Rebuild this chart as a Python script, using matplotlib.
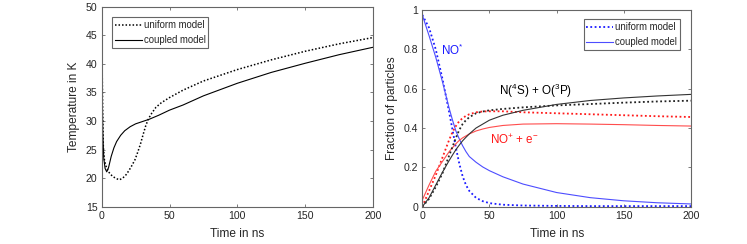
import matplotlib
matplotlib.use("Agg")
import matplotlib.pyplot as plt

plt.rcParams['font.family'] = ['Liberation Sans', 'DejaVu Sans']
plt.rcParams['mathtext.fontset'] = 'custom'
plt.rcParams['mathtext.rm'] = 'Liberation Sans'
plt.rcParams['mathtext.it'] = 'Liberation Sans:italic'
plt.rcParams['mathtext.default'] = 'rm'

# ---- Left panel: temperature ----
t_uni_T = [0, 0.4, 0.8, 1.2, 2, 3, 5, 8, 11, 13, 15.5, 18, 20, 22, 24.5, 26.5, 28.5, 30.5,
           32.5, 34.5, 37, 40, 44, 50, 60, 75, 100, 125, 150, 175, 200]
T_uni = [45.5, 38, 31, 25.5, 23.2, 22.2, 21.1, 20.3, 19.9, 19.7, 20.0, 20.6, 21.3, 22.1, 23.2,
         24.5, 25.9, 27.6, 29.2, 30.4, 31.4, 32.4, 33.2, 34.1, 35.4, 37.0, 39.0, 40.7, 42.2,
         43.5, 44.6]
t_cpl_T = [0, 0.4, 0.8, 1.5, 2.5, 3.7, 5, 7, 9, 11, 14, 17, 21, 25, 30, 35, 42, 50, 60, 75,
           100, 125, 150, 175, 200]
T_cpl = [45, 35, 28, 23.5, 21.7, 21.1, 21.8, 23.8, 25.3, 26.4, 27.5, 28.3, 29.0, 29.5, 29.9,
         30.3, 31.0, 31.9, 32.8, 34.4, 36.6, 38.5, 40.1, 41.6, 42.9]

# ---- Right panel: fractions ----
t_f = [0, 5, 10, 15, 20, 22.5, 25, 27.5, 30, 32.5, 35, 40, 45, 50, 60, 75, 100, 125, 150, 175, 200]
no_uni = [0.975, 0.91, 0.80, 0.65, 0.48, 0.39, 0.30, 0.22, 0.155, 0.11, 0.08, 0.045, 0.028,
          0.018, 0.010, 0.006, 0.004, 0.003, 0.003, 0.003, 0.003]
no_cpl = [0.975, 0.87, 0.76, 0.635, 0.50, 0.44, 0.385, 0.345, 0.31, 0.28, 0.255, 0.226, 0.202,
          0.183, 0.152, 0.115, 0.072, 0.046, 0.030, 0.020, 0.014]
ion_uni = [0.0, 0.08, 0.16, 0.25, 0.34, 0.38, 0.41, 0.435, 0.45, 0.462, 0.47, 0.48, 0.484,
           0.485, 0.485, 0.48, 0.475, 0.47, 0.465, 0.46, 0.456]
ion_cpl = [0.034, 0.11, 0.18, 0.23, 0.28, 0.30, 0.32, 0.337, 0.35, 0.36, 0.37, 0.385, 0.395,
           0.403, 0.413, 0.42, 0.422, 0.42, 0.417, 0.413, 0.41]
neu_uni = [0.0, 0.04, 0.10, 0.17, 0.26, 0.305, 0.35, 0.39, 0.42, 0.44, 0.455, 0.475, 0.484,
           0.49, 0.497, 0.505, 0.515, 0.522, 0.529, 0.535, 0.539]
neu_cpl = [0.0, 0.045, 0.11, 0.175, 0.235, 0.263, 0.29, 0.313, 0.335, 0.353, 0.37, 0.40,
           0.42, 0.44, 0.465, 0.49, 0.52, 0.54, 0.553, 0.563, 0.571]

xticks = [0, 50, 100, 150, 200]
yticks_T = [15, 20, 25, 30, 35, 40, 45, 50]
yticks_f = [0, 0.2, 0.4, 0.6, 0.8, 1]
yticklabels_f = ['0', '0.2', '0.4', '0.6', '0.8', '1']

W, H = 747, 244
fig = plt.figure(figsize=(W / 100, H / 100), dpi=100)

def ax_rect(x0, y0, x1, y1):
    return [x0 / W, (H - y1) / H, (x1 - x0) / W, (y1 - y0) / H]

axc = '#666666'
txtc = '#262626'
fs = 7.6
lfs = 8.6
legfs = 6.9
annfs = 8.4

def style(ax):
    for s in ax.spines.values():
        s.set_color(axc)
        s.set_linewidth(0.8)
    ax.tick_params(direction='in', length=2.5, width=0.6, color=axc, labelcolor=txtc,
                   labelsize=fs, top=True, right=True, pad=3)

def legend(ax, loc, anchor):
    leg = ax.legend(loc=loc, bbox_to_anchor=anchor, borderaxespad=0,
                    fontsize=legfs, fancybox=False, edgecolor=axc, framealpha=1,
                    handlelength=2.8, handletextpad=0.2, borderpad=0.3, labelspacing=0.5)
    leg.get_frame().set_linewidth(0.8)
    for t in leg.get_texts():
        t.set_color(txtc)
    return leg

ax1 = fig.add_axes(ax_rect(101.7, 6.7, 373, 206.7))
ax1.plot(t_uni_T, T_uni, color='black', linestyle=(0, (1, 1.3)), linewidth=1.1,
         label='uniform model')
ax1.plot(t_cpl_T, T_cpl, color='black', linestyle='-', linewidth=0.8, label='coupled model')
ax1.set_xlim(0, 200)
ax1.set_ylim(15, 50)
ax1.set_xticks(xticks)
ax1.set_yticks(yticks_T)
style(ax1)
ax1.set_xlabel('Time in ns', fontsize=lfs, color=txtc, labelpad=5)
ax1.set_ylabel('Temperature in K', fontsize=lfs, color=txtc, labelpad=4)
legend(ax1, 'upper left', (0.038, 0.947))

ax2 = fig.add_axes(ax_rect(422.3, 10, 691, 206.7))
blue = '#1a1aff'
red = '#ff1a1a'
dot = (0, (1, 1.4))
ax2.plot(t_f, no_uni, color=blue, linestyle=dot, linewidth=1.3, label='uniform model')
ax2.plot(t_f, no_cpl, color='#4d4dff', linestyle='-', linewidth=0.8, label='coupled model')
ax2.plot(t_f, ion_uni, color=red, linestyle=dot, linewidth=1.3)
ax2.plot(t_f, ion_cpl, color='#ff4d4d', linestyle='-', linewidth=0.8)
ax2.plot(t_f, neu_uni, color='#222222', linestyle=dot, linewidth=1.3)
ax2.plot(t_f, neu_cpl, color='#333333', linestyle='-', linewidth=0.8)
ax2.set_xlim(0, 200)
ax2.set_ylim(0, 1)
ax2.set_xticks(xticks)
ax2.set_yticks(yticks_f)
ax2.set_yticklabels(yticklabels_f)
style(ax2)
ax2.set_xlabel('Time in ns', fontsize=lfs, color=txtc, labelpad=5)
ax2.set_ylabel('Fraction of particles', fontsize=lfs, color=txtc, labelpad=4)
legend(ax2, 'upper right', (0.959, 0.953))

ax2.text(13.9, 0.797, r'NO$^{*}$', color='#1a1aff', fontsize=annfs, va='center', ha='left')
ax2.text(57.3, 0.59, r'N($^{4}$S) + O($^{3}$P)', color='black', fontsize=annfs,
         va='center', ha='left')
ax2.text(50.4, 0.339, r'NO$^{+}$ + e$^{-}$', color='#ff1a1a', fontsize=annfs,
         va='center', ha='left')

fig.savefig('out.png', dpi=100)
